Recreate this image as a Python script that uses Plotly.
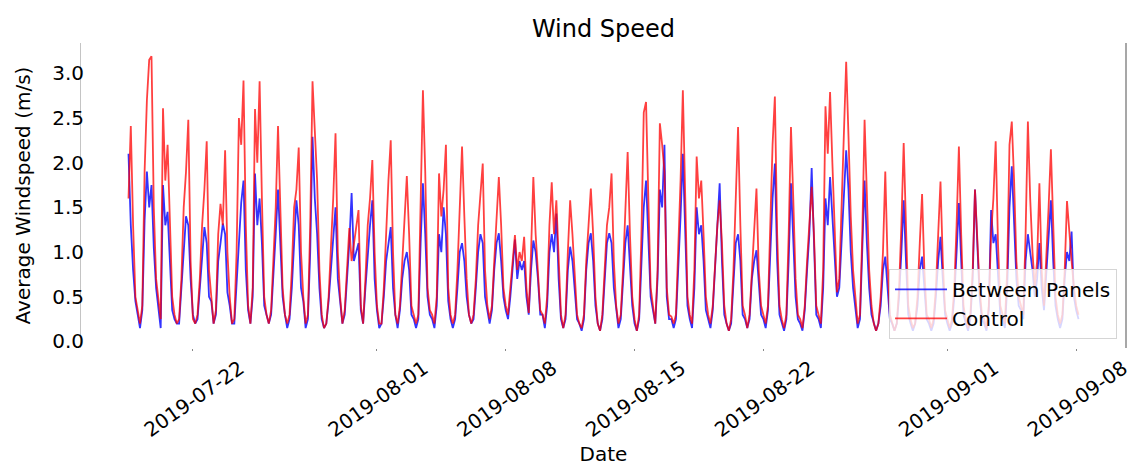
import pandas as pd
import plotly.graph_objects as go

# ---- data (3-hourly readings, first sample 2019-07-18 12:00) ----
start_time = "2019-07-18 12:00"
step = "3h"

control = [
    1.6, 2.41, 1.3, 0.5,                          # 07-18 (12h..21h)
    0.35, 0.2, 0.4, 1.9, 2.7, 3.15, 3.19, 1.5,    # 07-19
    0.7, 0.45, 0.25, 2.61, 1.8, 2.2, 1.3, 0.5,    # 07-20
    0.3, 0.2, 0.25, 0.7, 1.5, 1.9, 2.48, 0.9,     # 07-21
    0.25, 0.2, 0.3, 0.7, 1.3, 1.7, 2.24, 0.8,     # 07-22
    0.5, 0.2, 0.35, 1.2, 1.54, 1.3, 2.14, 1.0,    # 07-23
    0.5, 0.2, 0.25, 1.0, 2.5, 2.2, 2.92, 1.3,     # 07-24
    0.4, 0.2, 0.6, 2.6, 2.0, 2.91, 1.6, 0.5,      # 07-25
    0.3, 0.2, 0.35, 0.9, 1.5, 2.41, 1.6, 0.6,     # 07-26
    0.3, 0.2, 0.3, 0.8, 1.5, 1.7, 2.17, 1.0,      # 07-27
    0.5, 0.2, 0.3, 1.3, 2.91, 2.3, 1.8, 0.8,      # 07-28
    0.3, 0.15, 0.2, 0.5, 1.0, 1.6, 2.33, 1.0,     # 07-29
    0.5, 0.2, 0.35, 0.8, 1.27, 0.9, 1.1, 1.3,     # 07-30
    1.47, 0.4, 0.2, 0.7, 1.3, 1.6, 2.03, 1.0,     # 07-31
    0.4, 0.2, 0.2, 0.6, 1.3, 1.8, 2.25, 1.0,      # 08-01
    0.3, 0.2, 0.4, 0.9, 1.3, 1.85, 1.2, 0.4,      # 08-02
    0.3, 0.2, 0.3, 1.5, 2.81, 1.9, 0.6, 0.35,     # 08-03
    0.3, 0.2, 0.5, 1.88, 1.4, 1.7, 2.2, 0.6,      # 08-04
    0.3, 0.2, 0.3, 0.8, 1.6, 2.18, 1.4, 0.7,      # 08-05
    0.3, 0.2, 0.3, 0.7, 1.3, 1.6, 1.99, 0.8,      # 08-06
    0.4, 0.25, 0.4, 0.9, 1.4, 1.84, 1.3, 0.6,     # 08-07
    0.4, 0.3, 0.6, 0.9, 1.19, 0.8, 1.0, 0.9,      # 08-08
    1.17, 0.6, 0.32, 1.0, 1.84, 1.2, 0.8, 0.35,   # 08-09
    0.3, 0.2, 0.5, 1.3, 1.78, 1.2, 1.58, 0.9,     # 08-10
    0.3, 0.15, 0.3, 1.0, 1.58, 1.2, 0.7, 0.3,     # 08-11
    0.2, 0.15, 0.3, 0.9, 1.3, 1.71, 1.2, 0.5,     # 08-12
    0.2, 0.12, 0.3, 0.8, 1.3, 1.5, 1.88, 0.9,     # 08-13
    0.4, 0.2, 0.3, 0.8, 1.5, 2.12, 1.2, 0.5,      # 08-14
    0.25, 0.12, 0.3, 1.2, 2.56, 2.68, 1.6, 0.6,   # 08-15
    0.4, 0.2, 0.8, 2.44, 2.2, 1.9, 0.6, 0.3,      # 08-16
    0.28, 0.2, 0.3, 1.0, 1.8, 2.81, 1.6, 0.5,     # 08-17
    0.3, 0.2, 0.8, 2.07, 1.6, 1.8, 1.2, 0.5,      # 08-18
    0.3, 0.2, 0.4, 0.9, 1.3, 1.58, 1.1, 0.4,      # 08-19
    0.2, 0.12, 0.25, 0.8, 1.5, 2.4, 1.3, 0.4,     # 08-20
    0.3, 0.15, 0.3, 0.8, 1.3, 1.71, 0.8, 0.4,     # 08-21
    0.3, 0.2, 0.4, 1.3, 2.2, 2.74, 1.2, 0.4,      # 08-22
    0.25, 0.15, 0.3, 1.2, 2.4, 1.6, 0.7, 0.3,     # 08-23
    0.25, 0.15, 0.4, 0.9, 1.3, 1.73, 1.2, 0.4,    # 08-24
    0.3, 0.2, 0.8, 2.63, 2.1, 2.79, 2.0, 1.2,     # 08-25
    0.55, 0.7, 1.5, 2.3, 3.13, 2.3, 1.4, 0.8,     # 08-26
    0.5, 0.2, 0.3, 1.2, 2.48, 1.5, 0.8, 0.4,      # 08-27
    0.2, 0.12, 0.2, 0.5, 1.0, 1.9, 0.9, 0.3,      # 08-28
    0.2, 0.12, 0.2, 0.6, 1.3, 2.22, 1.3, 0.4,     # 08-29
    0.25, 0.15, 0.2, 0.5, 1.1, 1.65, 0.8, 0.3,    # 08-30
    0.25, 0.15, 0.25, 0.6, 1.2, 1.79, 0.9, 0.35,  # 08-31
    0.25, 0.15, 0.25, 0.6, 1.3, 2.18, 1.2, 0.4,   # 09-01
    0.25, 0.15, 0.3, 0.8, 1.7, 1.2, 0.6, 0.3,     # 09-02
    0.25, 0.15, 0.4, 1.2, 1.6, 2.24, 1.1, 0.4,    # 09-03
    0.3, 0.2, 0.8, 2.2, 2.46, 1.8, 0.9, 0.5,      # 09-04
    0.4, 0.3, 1.2, 2.46, 1.6, 1.0, 0.6, 0.9,      # 09-05
    1.77, 0.8, 0.4, 0.9, 1.5, 2.15, 1.2, 0.5,     # 09-06
    0.3, 0.2, 0.3, 0.8, 1.57, 1.2, 0.9, 0.6,      # 09-07
    0.4, 0.3,                                     # 09-08 (0h, 3h)
]

between_panels = [
    2.1, 1.3, 0.8, 0.45,                          # 07-18
    0.3, 0.15, 0.35, 1.35, 1.9, 1.5, 1.75, 1.05,  # 07-19
    0.6, 0.4, 0.15, 1.75, 1.3, 1.45, 0.9, 0.35,   # 07-20
    0.25, 0.2, 0.2, 0.6, 1.05, 1.4, 1.3, 0.7,     # 07-21
    0.3, 0.2, 0.25, 0.6, 1.0, 1.28, 1.1, 0.5,     # 07-22
    0.45, 0.2, 0.3, 0.9, 1.1, 1.32, 1.2, 0.55,    # 07-23
    0.4, 0.2, 0.2, 0.7, 1.2, 1.55, 1.8, 0.8,      # 07-24
    0.35, 0.2, 0.5, 1.88, 1.3, 1.6, 1.1, 0.4,     # 07-25
    0.3, 0.2, 0.3, 0.7, 1.2, 1.7, 1.1, 0.5,       # 07-26
    0.3, 0.15, 0.25, 0.6, 1.1, 1.58, 1.3, 0.6,    # 07-27
    0.45, 0.15, 0.25, 1.0, 2.29, 1.6, 1.2, 0.6,   # 07-28
    0.25, 0.15, 0.2, 0.45, 0.8, 1.2, 1.5, 0.7,    # 07-29
    0.45, 0.2, 0.3, 0.7, 1.1, 1.66, 0.9, 1.0,     # 07-30
    1.1, 0.35, 0.2, 0.6, 1.0, 1.3, 1.58, 0.7,     # 07-31
    0.35, 0.15, 0.2, 0.5, 0.9, 1.1, 1.28, 0.6,    # 08-01
    0.3, 0.15, 0.35, 0.7, 0.9, 1.0, 0.8, 0.3,     # 08-02
    0.25, 0.15, 0.25, 1.1, 1.77, 1.2, 0.5, 0.3,   # 08-03
    0.25, 0.15, 0.4, 1.2, 1.0, 1.5, 1.2, 0.45,    # 08-04
    0.25, 0.15, 0.25, 0.6, 1.0, 1.1, 0.9, 0.5,    # 08-05
    0.3, 0.2, 0.25, 0.6, 1.0, 1.2, 1.1, 0.5,      # 08-06
    0.35, 0.2, 0.35, 0.8, 1.1, 1.21, 0.9, 0.5,    # 08-07
    0.35, 0.25, 0.5, 0.8, 1.14, 0.7, 0.9, 0.8,    # 08-08
    0.9, 0.5, 0.3, 0.8, 1.13, 1.0, 0.7, 0.3,      # 08-09
    0.3, 0.15, 0.4, 1.0, 1.2, 1.0, 1.43, 0.7,     # 08-10
    0.25, 0.15, 0.25, 0.8, 1.06, 0.9, 0.6, 0.25,  # 08-11
    0.2, 0.12, 0.25, 0.8, 1.1, 1.21, 0.9, 0.4,    # 08-12
    0.2, 0.12, 0.25, 0.7, 1.1, 1.21, 1.1, 0.6,    # 08-13
    0.35, 0.15, 0.25, 0.7, 1.1, 1.3, 0.9, 0.4,    # 08-14
    0.2, 0.12, 0.25, 0.9, 1.5, 1.8, 1.2, 0.5,     # 08-15
    0.35, 0.2, 0.7, 1.7, 1.5, 2.2, 0.5, 0.25,     # 08-16
    0.25, 0.15, 0.25, 0.8, 1.4, 2.1, 1.2, 0.4,    # 08-17
    0.25, 0.15, 0.6, 1.5, 1.2, 1.3, 0.9, 0.35,    # 08-18
    0.25, 0.15, 0.35, 0.8, 1.2, 1.77, 0.9, 0.3,   # 08-19
    0.2, 0.12, 0.2, 0.7, 1.1, 1.2, 0.9, 0.3,      # 08-20
    0.25, 0.15, 0.25, 0.7, 0.9, 1.02, 0.7, 0.3,   # 08-21
    0.25, 0.15, 0.35, 1.0, 1.6, 1.99, 0.9, 0.3,   # 08-22
    0.2, 0.12, 0.25, 0.9, 1.77, 1.1, 0.5, 0.25,   # 08-23
    0.2, 0.12, 0.35, 0.8, 1.2, 1.94, 1.0, 0.3,    # 08-24
    0.25, 0.15, 0.6, 1.6, 1.3, 1.84, 1.4, 0.9,    # 08-25
    0.5, 0.6, 1.1, 1.7, 2.14, 1.7, 1.0, 0.6,      # 08-26
    0.4, 0.15, 0.25, 1.0, 1.8, 1.1, 0.6, 0.3,     # 08-27
    0.2, 0.12, 0.2, 0.4, 0.8, 0.95, 0.6, 0.25,    # 08-28
    0.2, 0.12, 0.2, 0.5, 1.0, 1.58, 0.9, 0.3,     # 08-29
    0.2, 0.12, 0.2, 0.4, 0.8, 0.95, 0.6, 0.25,    # 08-30
    0.2, 0.12, 0.2, 0.5, 0.9, 1.17, 0.7, 0.3,     # 08-31
    0.2, 0.12, 0.2, 0.5, 1.0, 1.55, 0.9, 0.3,     # 09-01
    0.2, 0.12, 0.25, 0.7, 1.7, 1.0, 0.5, 0.25,    # 09-02
    0.2, 0.12, 0.35, 1.47, 1.1, 1.2, 0.8, 0.3,    # 09-03
    0.25, 0.15, 0.6, 1.5, 1.96, 1.3, 0.7, 0.4,    # 09-04
    0.35, 0.25, 0.9, 1.2, 1.0, 0.8, 0.5, 0.7,     # 09-05
    1.1, 0.6, 0.35, 0.8, 1.2, 1.58, 0.9, 0.4,     # 09-06
    0.25, 0.15, 0.25, 0.7, 1.0, 0.9, 1.23, 0.5,   # 09-07
    0.35, 0.25,                                   # 09-08
]

tick_dates = ["2019-07-22", "2019-08-01", "2019-08-08", "2019-08-15",
              "2019-08-22", "2019-09-01", "2019-09-08"]
y_ticks = [0.0, 0.5, 1.0, 1.5, 2.0, 2.5, 3.0]

# ---- figure ----
times = pd.date_range(start=start_time, periods=len(control), freq=step)
span = times[-1] - times[0]
x_range = [times[0] - span * 0.05, times[-1] + span * 0.05]

FONT = "DejaVu Sans"

fig = go.Figure()
fig.add_trace(go.Scatter(
    x=times, y=between_panels, mode="lines", name="Between Panels",
    line=dict(color="rgba(0,0,255,0.8)", width=1.8),
))
fig.add_trace(go.Scatter(
    x=times, y=control, mode="lines", name="Control",
    line=dict(color="rgba(255,0,0,0.75)", width=1.8),
))

fig.update_layout(
    width=1134, height=468,
    margin=dict(l=81, r=2, t=43, b=120),
    paper_bgcolor="white", plot_bgcolor="white",
    font=dict(family=FONT, size=20, color="black"),
    title=dict(text="Wind Speed", x=0.5, xref="paper", xanchor="center",
               y=1 - 29 / 468, yref="container", yanchor="middle",
               font=dict(size=24, family=FONT, color="black")),
    showlegend=True,
    legend=dict(x=0.9914, y=0.03, xanchor="right", yanchor="bottom",
                bgcolor="rgba(255,255,255,0.8)", bordercolor="#d5d5d5",
                borderwidth=1, itemwidth=52,
                font=dict(size=20, family=FONT, color="black")),
    shapes=[dict(type="line", xref="paper", yref="paper", x0=1, x1=1,
                 y0=0, y1=1, line=dict(color="#8a8a8a", width=1.5))],
)

fig.update_xaxes(
    range=x_range, tickmode="array", tickvals=pd.to_datetime(tick_dates),
    ticktext=tick_dates, tickangle=-35, ticklabelshift=47,
    ticklabeloverflow="allow", ticklabelstandoff=-2,
    ticks="outside", ticklen=2, tickcolor="#888888",
    showgrid=False, zeroline=False, showline=False,
    title=dict(text="Date", font=dict(size=20, family=FONT), standoff=4),
    tickfont=dict(size=20, family=FONT, color="black"),
)
fig.update_yaxes(
    range=[-0.073, 3.339], tickmode="array", tickvals=y_ticks,
    tickformat=".1f", showgrid=False, zeroline=False,
    showline=True, linecolor="#c4c4c4", linewidth=1, mirror=False,
    ticks="", ticklabelstandoff=-8,
    title=dict(text="Average Windspeed (m/s)",
               font=dict(size=20, family=FONT), standoff=16),
    tickfont=dict(size=20, family=FONT, color="black"),
)

fig.write_html("out.html",
               config={"displayModeBar": False},
               post_script="document.body.style.margin='0';"
                           "document.body.style.overflow='hidden';")
